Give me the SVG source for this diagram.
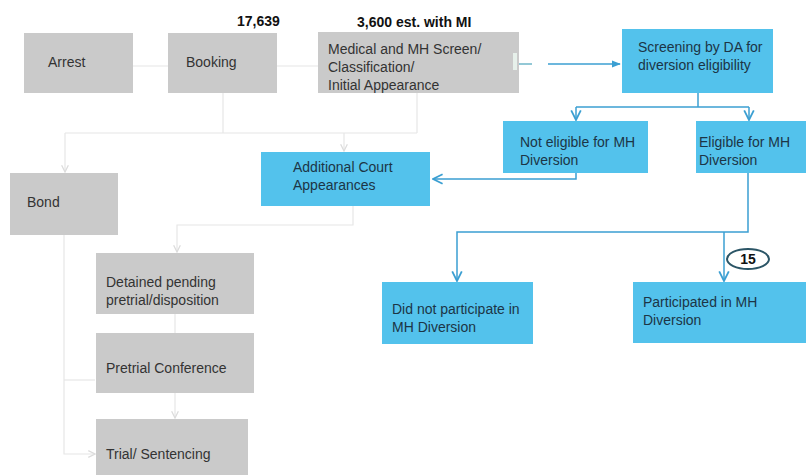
<svg xmlns="http://www.w3.org/2000/svg" width="806" height="475" viewBox="0 0 806 475">
<defs>
<style>
.g{fill:#cacaca}
.b{fill:#53c2ec}
.t{font-family:"Liberation Sans",Arial,sans-serif;font-size:14px;fill:#333333}
.tb{font-family:"Liberation Sans",Arial,sans-serif;font-size:14px;fill:#1c3546}
.lbl{font-family:"Liberation Sans",Arial,sans-serif;font-size:14px;font-weight:bold;fill:#111}
.f{fill:none;stroke:#e6e6e6;stroke-width:1.2}
.c{fill:none;stroke:#3b9fd2;stroke-width:1.5}
</style>
<marker id="af" viewBox="0 0 10 10" refX="9" refY="5" markerWidth="7" markerHeight="7" orient="auto"><path d="M1,1 L9,5 L1,9" fill="none" stroke="#dcdcdc" stroke-width="1.5"/></marker>
<marker id="ab" viewBox="0 0 10 10" refX="9" refY="5" markerWidth="8" markerHeight="8" orient="auto"><path d="M1,1 L9,5 L1,9" fill="none" stroke="#3b9fd2" stroke-width="1.5"/></marker>
<marker id="abf" viewBox="0 0 10 10" refX="9" refY="5" markerWidth="6" markerHeight="6" orient="auto"><path d="M0,1 L10,5 L0,9 z" fill="#3b9fd2"/></marker>
</defs>
<rect width="806" height="475" fill="#ffffff"/>
<g id="connectors">
<path class="f" d="M133,66 H168"/>
<path class="f" d="M277,66 H318"/>
<path class="f" d="M223,93 V133"/>
<path class="f" d="M417,93 V133"/>
<path class="f" d="M65,133 H417"/>
<path class="f" d="M65,133 V172" marker-end="url(#af)"/>
<path class="f" d="M344,133 V151" marker-end="url(#af)"/>
<path class="f" d="M353,206 V225 H177 V252" marker-end="url(#af)"/>
<path class="f" d="M175,314 V333"/>
<path class="f" d="M175,393 V418" marker-end="url(#af)"/>
<path class="f" d="M64,235 V454 H95" marker-end="url(#af)"/>
<path class="f" d="M64,380 H95"/>
<path d="M519,64 H532" fill="none" stroke="#6fb6c8" stroke-width="1.5"/>
<path class="c" d="M548,64 H620" marker-end="url(#abf)"/>
<path class="c" d="M698,93 V107"/>
<path class="c" d="M576,107 H749"/>
<path class="c" d="M576,107 V120" marker-end="url(#ab)"/>
<path class="c" d="M749,107 V120" marker-end="url(#ab)"/>
<path class="c" d="M576,173 V179 H433" marker-end="url(#ab)"/>
<path class="c" d="M748,173 V232 H457 V281" marker-end="url(#ab)"/>
<path class="c" d="M724,232 V281" marker-end="url(#ab)"/>
</g>
<g id="label-17639"><text class="lbl" x="237" y="26" font-size="13.5">17,639</text></g>
<g id="label-3600"><text class="lbl" x="357" y="27">3,600 est. with MI</text></g>
<g id="arrest"><rect class="g" x="24" y="33" width="109" height="60"/><text class="t" x="48" y="67">Arrest</text></g>
<g id="booking"><rect class="g" x="168" y="33" width="109" height="60"/><text class="t" x="186" y="67">Booking</text></g>
<g id="medical"><rect class="g" x="318" y="32" width="201" height="61"/><rect x="513" y="53" width="4" height="17" fill="#e6f0ea"/>
<text class="t" x="328" y="54" font-size="13.5">Medical and MH Screen/</text><text class="t" x="328" y="72" font-size="13.5">Classification/</text><text class="t" x="328" y="90" font-size="13.5">Initial Appearance</text></g>
<g id="screening"><rect class="b" x="622" y="29" width="151" height="64"/><text class="tb" x="638" y="52">Screening by DA for</text><text class="tb" x="638" y="70">diversion eligibility</text></g>
<g id="not-eligible"><rect class="b" x="503" y="121" width="145" height="52"/><text class="tb" x="520" y="147">Not eligible for MH</text><text class="tb" x="520" y="165">Diversion</text></g>
<g id="eligible"><rect class="b" x="696" y="121" width="110" height="52"/><text class="tb" x="699" y="147">Eligible for MH</text><text class="tb" x="699" y="165">Diversion</text></g>
<g id="additional-court"><rect class="b" x="261" y="152" width="169" height="54"/><text class="tb" x="293" y="172">Additional  Court</text><text class="tb" x="293" y="190">Appearances</text></g>
<g id="bond"><rect class="g" x="10" y="173" width="108" height="62"/><text class="t" x="27" y="207">Bond</text></g>
<g id="detained"><rect class="g" x="96" y="253" width="158" height="61"/><text class="t" x="106" y="287">Detained pending</text><text class="t" x="106" y="305">pretrial/disposition</text></g>
<g id="pretrial"><rect class="g" x="96" y="333" width="158" height="60"/><text class="t" x="106" y="373">Pretrial Conference</text></g>
<g id="trial"><rect class="g" x="96" y="419" width="152" height="56"/><text class="t" x="106" y="459">Trial/ Sentencing</text></g>
<g id="did-not"><rect class="b" x="382" y="282" width="151" height="62"/><text class="tb" x="392" y="314">Did not participate in</text><text class="tb" x="392" y="332">MH Diversion</text></g>
<g id="participated"><rect class="b" x="633" y="282" width="173" height="61"/><text class="tb" x="643" y="307">Participated in MH</text><text class="tb" x="643" y="325">Diversion</text></g>
<g id="count-15"><ellipse cx="748" cy="259" rx="21" ry="10" fill="#ffffff" stroke="#2b5566" stroke-width="2"/><text class="lbl" x="748" y="263.5" text-anchor="middle" font-size="12">15</text></g>
</svg>
